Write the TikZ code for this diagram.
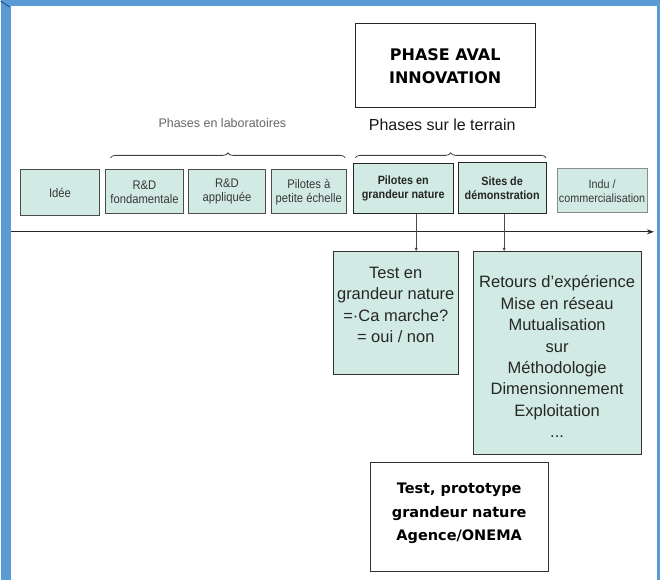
\documentclass[tikz,border=0pt]{standalone}
\usepackage{fontspec}
\setmainfont{Liberation Sans}
\newfontfamily\dv{DejaVu Sans}
\newfontfamily\narrow[FakeStretch=0.9]{Liberation Sans}
\usetikzlibrary{arrows.meta,decorations.pathreplacing}
\definecolor{frameblue}{RGB}{91,155,213}
\definecolor{framedark}{RGB}{45,95,150}
\definecolor{boxfill}{RGB}{210,234,228}
\definecolor{txtgray}{RGB}{55,55,55}
\begin{document}
\begin{tikzpicture}[x=1pt,y=-1pt,
  labbox/.style={draw=black!70, line width=0.9pt, fill=boxfill, inner sep=0pt,
    align=center, text=txtgray, font=\narrow\fontsize{12.5}{14}\selectfont},
  terbox/.style={draw=black!85, line width=1.1pt, fill=boxfill, inner sep=0pt,
    align=center, text=black!85, font=\narrow\bfseries\fontsize{12}{14}\selectfont},
  bigbox/.style={draw=black!80, line width=1pt, fill=boxfill, inner sep=0pt},
  whitebox/.style={draw=black!80, line width=1pt, fill=white, inner sep=0pt},
  bigtext/.style={align=center, inner sep=0pt, text=black!85,
    font=\fontsize{16.5}{21.5}\selectfont},
  conn/.style={draw=black!70, line width=0.6pt, -{Latex[length=3.5pt,width=3.5pt]}},
  axisline/.style={draw=black!85, line width=1.2pt, -{Stealth[length=7pt,width=5pt]}},
  bracestyle/.style={draw=black!75, line width=0.8pt, decorate,
    decoration={brace, amplitude=5pt}}]
% frame
\fill[frameblue] (0,0) rectangle (660,581);
\fill[white] (10,6) rectangle (657,581);
\draw[framedark, line width=1.2pt] (0,1) -- (9,7);
\useasboundingbox (0,0) rectangle (660,581);

% top box
\node[draw=black!85, line width=1pt, fill=white, minimum width=180pt, minimum height=84pt]
  (aval) at (445,66) {};
\node[align=center, inner sep=0pt, font=\dv\bfseries\fontsize{16}{22.5}\selectfont]
  (avaltxt) at (aval.center) {PHASE AVAL\\INNOVATION};

% titles
\node[text=black!60, inner sep=0pt, font=\fontsize{12.5}{14}\selectfont]
  (labtitle) at (222,123) {Phases en laboratoires};
\node[text=black!90, inner sep=0pt, font=\fontsize{16}{18}\selectfont]
  (tertitle) at (442,125) {Phases sur le terrain};

% braces
\coordinate (b1s) at (110,158);
\coordinate (b1e) at (345,158);
\coordinate (b2s) at (355,158);
\coordinate (b2e) at (546,158);
\draw[bracestyle] (b1s) -- (b1e);
\draw[bracestyle] (b2s) -- (b2e);

% phase boxes
\node[labbox, minimum width=79pt, minimum height=46pt] (idee) at (59.5,193) {Idée};
\node[labbox, minimum width=78pt, minimum height=44pt] (rdf) at (144,192) {R\&D\\fondamentale};
\node[labbox, minimum width=77pt, minimum height=44pt] (rda) at (226.5,192) {R\&D\\appliquée};
\node[labbox, minimum width=75pt, minimum height=44pt] (pil1) at (308.5,192) {Pilotes à\\petite échelle};
\node[terbox, minimum width=100pt, minimum height=50pt] (pil2) at (403,189) {Pilotes en\\grandeur nature};
\node[terbox, minimum width=88pt, minimum height=51pt] (sites) at (502,188.5) {Sites de\\démonstration};
\node[labbox, draw=black!45, minimum width=90pt, minimum height=44pt,
  font=\narrow\fontsize{12}{14}\selectfont] (indu) at (602,191) {Indu /\\commercialisation};

% axis
\coordinate (axs) at (10,232);
\coordinate (axe) at (654,232);
\draw[axisline] (axs) -- (axe);

% lower boxes
\node[bigbox, minimum width=125pt, minimum height=123pt] (test) at (395.5,313.5) {};
\node[bigtext] (testtxt) at (395.5,305) {Test en\\grandeur nature\\=·Ca marche?\\= oui / non};
\node[bigbox, minimum width=168pt, minimum height=203pt] (ret) at (557,353.5) {};
\node[bigtext] (rettxt) at (557,357) {Retours d'expérience\\Mise en réseau\\Mutualisation\\sur\\Méthodologie\\Dimensionnement\\Exploitation\\...};
\node[whitebox, minimum width=178pt, minimum height=109pt] (proto) at (459,517.5) {};
\node[align=center, inner sep=0pt, font=\dv\bfseries\fontsize{14.5}{23.5}\selectfont]
  (prototxt) at (459,514) {Test, prototype\\grandeur nature\\Agence/ONEMA};

% connectors
\coordinate (c1) at ([xshift=13pt]pil2.south);
\coordinate (c2) at ([xshift=2pt]sites.south);
\draw[conn] (c1) -- (c1 |- test.north);
\draw[conn] (c2) -- (c2 |- ret.north);
\end{tikzpicture}
\end{document}
